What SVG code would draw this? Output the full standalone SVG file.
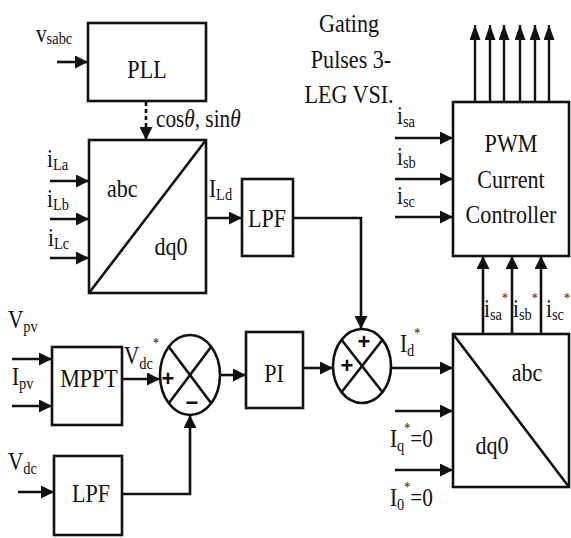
<svg xmlns="http://www.w3.org/2000/svg" width="571" height="538" viewBox="0 0 571 538" font-family="'Liberation Serif', 'Times New Roman', serif">
<defs>
<marker id="ah" markerUnits="userSpaceOnUse" markerWidth="14" markerHeight="13" refX="13" refY="6.5" orient="auto">
<path d="M0,0 L13,6.5 L0,13 z" fill="#111"/>
</marker>
<marker id="ahg" markerUnits="userSpaceOnUse" markerWidth="15" markerHeight="11" refX="15" refY="5.5" orient="auto">
<path d="M0,0 L15,5.5 L0,11 z" fill="#111"/>
</marker>
<style>
.box{fill:#fff;stroke:#111;stroke-width:2.6}
.ln{fill:none;stroke:#111;stroke-width:2.6}
.arr{fill:none;stroke:#111;stroke-width:2.6;marker-end:url(#ah)}
.garr{fill:none;stroke:#111;stroke-width:2.4;marker-end:url(#ahg)}
.t{font-size:26px;fill:#111}
.m{text-anchor:middle}
.l{font-size:25px;fill:#111}
.s{font-size:17px}
.st{font-size:14px}
.pm{font-size:22px;font-weight:bold;text-anchor:middle;fill:#111}
</style>
</defs>

<g id="connectors">
<line class="arr" x1="57" y1="62" x2="88" y2="62"/>
<line class="ln" x1="146" y1="102" x2="146" y2="130" stroke-dasharray="4 3"/>
<line class="arr" x1="146" y1="128" x2="146" y2="140"/>
<line class="arr" x1="50" y1="181" x2="89" y2="181"/>
<line class="arr" x1="50" y1="219" x2="89" y2="219"/>
<line class="arr" x1="50" y1="258" x2="89" y2="258"/>
<line class="arr" x1="206" y1="218" x2="242" y2="218"/>
<path class="arr" d="M293,218 H361 V329"/>
<line class="arr" x1="395" y1="138" x2="453" y2="138"/>
<line class="arr" x1="395" y1="179" x2="453" y2="179"/>
<line class="arr" x1="395" y1="217" x2="453" y2="217"/>
<line class="garr" x1="475" y1="102" x2="475" y2="25"/>
<line class="garr" x1="490" y1="102" x2="490" y2="25"/>
<line class="garr" x1="504" y1="102" x2="504" y2="25"/>
<line class="garr" x1="520" y1="102" x2="520" y2="25"/>
<line class="garr" x1="535" y1="102" x2="535" y2="25"/>
<line class="garr" x1="549" y1="102" x2="549" y2="25"/>
<line class="arr" x1="483" y1="334" x2="483" y2="256"/>
<line class="arr" x1="512" y1="334" x2="512" y2="256"/>
<line class="arr" x1="541" y1="334" x2="541" y2="256"/>
<line class="arr" x1="12" y1="359" x2="52" y2="359"/>
<line class="arr" x1="12" y1="406" x2="52" y2="406"/>
<line class="arr" x1="122" y1="379" x2="160" y2="379"/>
<line class="arr" x1="220" y1="375" x2="246" y2="375"/>
<line class="arr" x1="18" y1="492" x2="54" y2="492"/>
<path class="arr" d="M122,494 H190 V415"/>
<line class="arr" x1="303" y1="368" x2="333" y2="368"/>
<line class="arr" x1="391" y1="368" x2="453" y2="368"/>
<line class="arr" x1="395" y1="411" x2="453" y2="411"/>
<line class="arr" x1="395" y1="470" x2="453" y2="470"/>
</g>

<g id="pll">
<rect class="box" x="88" y="23" width="118" height="78"/>
<text class="t m" transform="translate(147 78) scale(.85 1)">PLL</text>
</g>

<g id="abc-dq0-load">
<rect class="box" x="89" y="140" width="117" height="153"/>
<line class="ln" x1="89" y1="293" x2="206" y2="140"/>
<text class="t" transform="translate(107 197) scale(.85 1)">abc</text>
<text class="t m" transform="translate(171 255) scale(.85 1)">dq0</text>
</g>

<g id="lpf1">
<rect class="box" x="242" y="179" width="51" height="77"/>
<text class="t m" transform="translate(267 227) scale(.85 1)">LPF</text>
</g>

<g id="pwm">
<rect class="box" x="453" y="102" width="116" height="154"/>
<text class="t m" transform="translate(511 152) scale(.85 1)">PWM</text>
<text class="t m" transform="translate(511 188) scale(.85 1)">Current</text>
<text class="t m" transform="translate(511 223) scale(.85 1)">Controller</text>
</g>

<g id="gating-label">
<text class="t m" transform="translate(349 32) scale(.85 1)">Gating</text>
<text class="t m" transform="translate(351 68) scale(.85 1)">Pulses 3-</text>
<text class="t m" transform="translate(349 103) scale(.85 1)">LEG VSI.</text>
</g>

<g id="mppt">
<rect class="box" x="52" y="347" width="70" height="78"/>
<text class="t m" transform="translate(89 387) scale(.85 1)">MPPT</text>
</g>

<g id="sum1">
<ellipse class="box" cx="190" cy="375" rx="30" ry="40"/>
<line class="ln" x1="168.8" y1="346.7" x2="211.2" y2="403.3"/>
<line class="ln" x1="211.2" y1="346.7" x2="168.8" y2="403.3"/>
<text class="pm" font-family="'Liberation Sans', Arial, sans-serif" x="168" y="386">+</text>
<text class="pm" font-family="'Liberation Sans', Arial, sans-serif" x="192" y="410">−</text>
</g>

<g id="pi">
<rect class="box" x="246" y="332" width="57" height="76"/>
<text class="t m" transform="translate(274 382) scale(.85 1)">PI</text>
</g>

<g id="lpf2">
<rect class="box" x="54" y="456" width="68" height="79"/>
<text class="t m" transform="translate(91 502) scale(.85 1)">LPF</text>
</g>

<g id="sum2">
<ellipse class="box" cx="362" cy="366" rx="29" ry="37"/>
<line class="ln" x1="341.5" y1="339.8" x2="382.5" y2="392.2"/>
<line class="ln" x1="382.5" y1="339.8" x2="341.5" y2="392.2"/>
<text class="pm" font-family="'Liberation Sans', Arial, sans-serif" x="364" y="349">+</text>
<text class="pm" font-family="'Liberation Sans', Arial, sans-serif" x="347" y="373">+</text>
</g>

<g id="dq0-abc-ref">
<rect class="box" x="453" y="334" width="116" height="153"/>
<line class="ln" x1="453" y1="334" x2="569" y2="487"/>
<text class="t m" transform="translate(527 381) scale(.85 1)">abc</text>
<text class="t m" transform="translate(492 454) scale(.85 1)">dq0</text>
</g>

<g id="labels">
<text class="l" transform="translate(36 42) scale(.85 1)">v<tspan class="s" dy="2">sabc</tspan></text>
<text class="l" transform="translate(156 127) scale(.85 1)">cos<tspan font-style="italic">θ</tspan>, sin<tspan font-style="italic">θ</tspan></text>
<text class="l" transform="translate(47 167) scale(.85 1)">i<tspan class="s" dy="3">La</tspan></text>
<text class="l" transform="translate(47 207) scale(.85 1)">i<tspan class="s" dy="3">Lb</tspan></text>
<text class="l" transform="translate(48 246) scale(.85 1)">i<tspan class="s" dy="3">Lc</tspan></text>
<text class="l" transform="translate(209 197) scale(.85 1)">I<tspan class="s" dy="3">Ld</tspan></text>
<text class="l" transform="translate(397 124) scale(.85 1)">i<tspan class="s" dy="3">sa</tspan></text>
<text class="l" transform="translate(397 165) scale(.85 1)">i<tspan class="s" dy="3">sb</tspan></text>
<text class="l" transform="translate(397 204) scale(.85 1)">i<tspan class="s" dy="3">sc</tspan></text>
<text class="l" transform="translate(484 317) scale(.85 1)">i<tspan class="s" dy="3">sa</tspan><tspan class="st" dy="-17">*</tspan></text>
<text class="l" transform="translate(513 317) scale(.85 1)">i<tspan class="s" dy="3">sb</tspan><tspan class="st" dy="-17">*</tspan></text>
<text class="l" transform="translate(546 317) scale(.85 1)">i<tspan class="s" dy="3">sc</tspan><tspan class="st" dy="-17">*</tspan></text>
<text class="l" transform="translate(8 328) scale(.85 1)">V<tspan class="s" dy="4">pv</tspan></text>
<text class="l" transform="translate(12 385) scale(.85 1)">I<tspan class="s" dy="4">pv</tspan></text>
<text class="l" transform="translate(8 470) scale(.85 1)">V<tspan class="s" dy="4">dc</tspan></text>
<text class="l" transform="translate(124 364) scale(.85 1)">V<tspan class="s" dy="5">dc</tspan><tspan class="st" dy="-21">*</tspan></text>
<text class="l" transform="translate(400 352) scale(.85 1)">I<tspan class="s" dy="4">d</tspan><tspan class="st" dy="-18">*</tspan></text>
<text class="l" transform="translate(390 447) scale(.85 1)">I<tspan class="s" dy="4">q</tspan><tspan class="st" dy="-18">*</tspan><tspan dy="14">=0</tspan></text>
<text class="l" transform="translate(390 506) scale(.85 1)">I<tspan class="s" dy="4">0</tspan><tspan class="st" dy="-18">*</tspan><tspan dy="14">=0</tspan></text>
</g>
</svg>
